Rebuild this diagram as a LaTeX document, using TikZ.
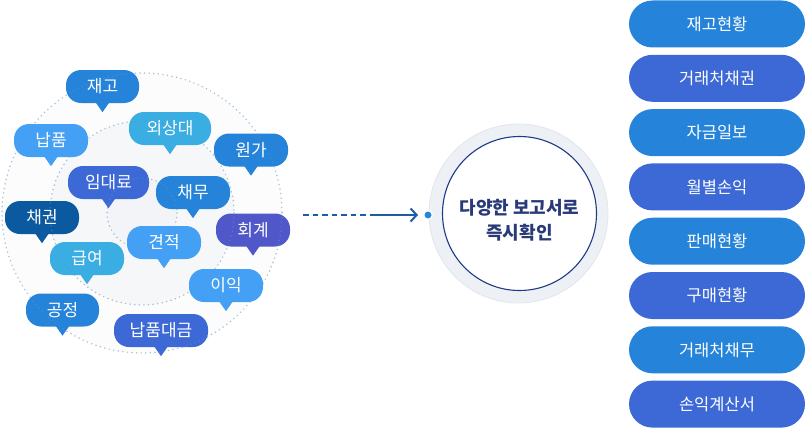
\documentclass[tikz,border=0pt]{standalone}
\usepackage{fontspec}
\setmainfont{Noto Sans CJK KR}
\usetikzlibrary{arrows.meta}
\definecolor{cA}{HTML}{2584DA}
\definecolor{cB}{HTML}{3C69D5}
\definecolor{cC}{HTML}{3AAEE2}
\definecolor{cD}{HTML}{43A0F5}
\definecolor{cE}{HTML}{0B599F}
\definecolor{cF}{HTML}{5057C8}
\definecolor{ringfill}{HTML}{EDF0F4}
\definecolor{ringline}{HTML}{E2E6EB}
\definecolor{navy}{HTML}{1F3A86}
\definecolor{navytext}{HTML}{283A78}
\definecolor{arrowc}{HTML}{1C5DA6}
\definecolor{dotc}{HTML}{5E93BE}
\definecolor{f1}{HTML}{FCFCFD}
\definecolor{f2}{HTML}{F6F7F9}
\definecolor{f3}{HTML}{F2F4F7}
\begin{document}
\begin{tikzpicture}[x=1pt,y=-1pt,
  bub/.style args={#1/#2}{fill=#1, rounded corners=15pt, minimum width=#2pt,
    minimum height=33pt, inner sep=0pt, text=white, text height=13pt, text depth=0.5pt,
    font=\fontsize{17}{20}\selectfont},
  pill/.style={fill=#1, rounded corners=23.5pt, minimum width=176pt, minimum height=47pt,
    inner sep=0pt, text=white, text height=13pt, text depth=0.5pt,
    font=\fontsize{16.5}{20}\selectfont},
  dotring/.style={draw=dotc, draw opacity=0.55, line width=1.7pt, line cap=round,
    dash pattern=on 0pt off 4.6pt}]
\useasboundingbox (0,0) rectangle (805,428);
% cluster circles
\coordinate (cc) at (142,213);
\fill[f1] (cc) circle (140);
\fill[f2] (cc) circle (92);
\fill[f3] (cc) circle (35);
% bubbles
\foreach \n/\x/\y/\w/\c/\t in {
  b1/102.5/86.5/73/cA/재고,
  b2/170/128.5/82/cC/외상대,
  b3/51/140.5/74/cD/납품,
  b4/251/150/74/cA/원가,
  b5/108.5/182.5/81/cB/임대료,
  b6/193/192.5/74/cA/채무,
  b7/42/217.5/74/cE/채권,
  b8/253/230/74/cF/회계,
  b9/164/242.5/74/cD/견적,
  b10/87/258.5/74/cC/급여,
  b11/226/285.5/74/cD/이익,
  b12/62.5/310/73/cA/공정,
  b13/161/330.5/94/cB/납품대금}{
  \node[bub=\c/\w] (\n) at (\x,\y) {\t};
  \fill[\c] ([xshift=-7pt,yshift=1pt]\n.south) -- ([xshift=7pt,yshift=1pt]\n.south)
     -- ([yshift=-9pt]\n.south) -- cycle;
}
\draw[dotring] (cc) circle (140);
\draw[dotring] (cc) circle (92);
\draw[dotring] (cc) circle (35);
% center circle
\node[circle, fill=ringfill, draw=ringline, line width=0.8pt, minimum size=179pt] (ring) at (518.5,213.5) {};
\node[circle, fill=white, draw=navy, line width=1.1pt, minimum size=154pt] (inner) at (519.5,213.5) {};
\node[text=navytext, align=center, font=\fontsize{18}{25}\selectfont\bfseries] (ctext) at (519.5,220) {다양한 보고서로\\즉시확인};
% arrow
\node[circle, fill=cA, draw=white, line width=1.2pt, minimum size=8.5pt, inner sep=0pt] (dot) at (428,215) {};
\coordinate (as) at (303,215);
\coordinate (am) at (372,215);
\coordinate (ae) at (418,215);
\draw[arrowc, line width=2.2pt, dash pattern=on 5.5pt off 4pt] (as) -- (am);
\draw[arrowc, line width=2pt, -{Straight Barb[length=6pt,width=13pt,line width=2pt]}] (am) -- (ae);
% right pills
\foreach \n/\y/\c/\t in {
  p1/24/cA/재고현황,
  p2/78.3/cB/거래처채권,
  p3/132.6/cA/자금일보,
  p4/186.9/cB/월별손익,
  p5/241.2/cA/판매현황,
  p6/295.5/cB/구매현황,
  p7/349.8/cA/거래처채무,
  p8/404.1/cB/손익계산서}{
  \node[pill=\c] (\n) at (717,\y) {\t};
}
\end{tikzpicture}
\end{document}
